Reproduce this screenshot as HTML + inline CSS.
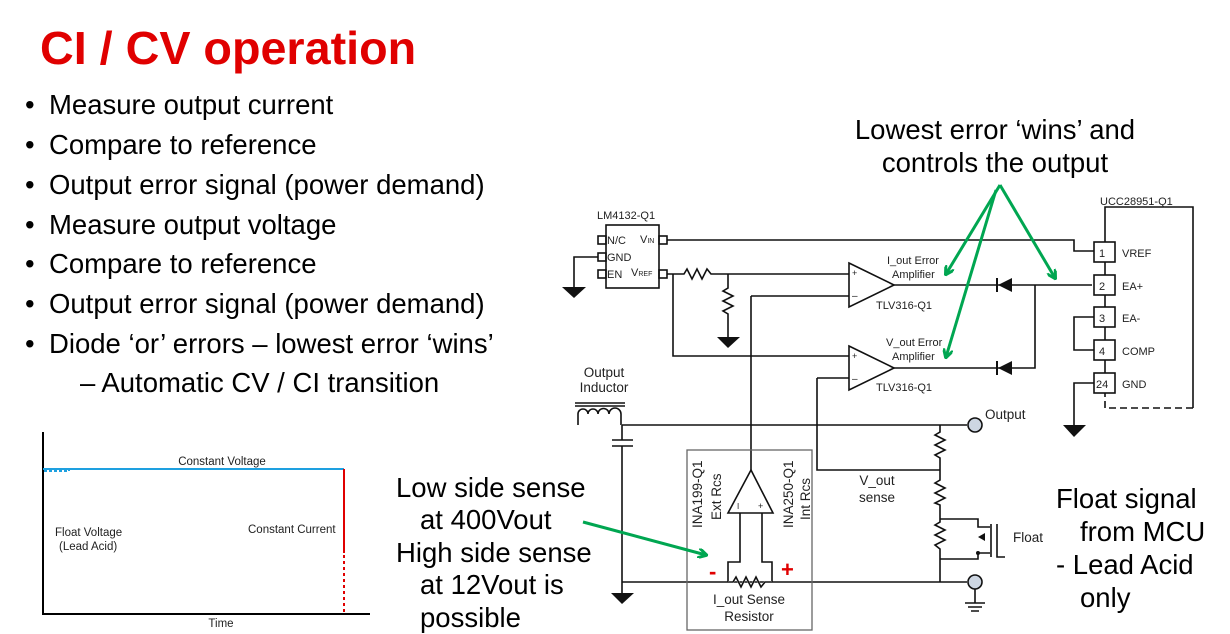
<!DOCTYPE html>
<html><head><meta charset="utf-8"><style>
html,body{margin:0;padding:0;background:#fff;}
svg{display:block;font-family:"Liberation Sans",Arial,sans-serif;}
</style></head><body>
<svg width="1230" height="634" viewBox="0 0 1230 634" xmlns="http://www.w3.org/2000/svg">
<defs>
<marker id="ah" markerWidth="10" markerHeight="10" refX="8" refY="5" orient="auto" markerUnits="userSpaceOnUse">
<path d="M0,0 L9,5 L0,10" fill="none" stroke="#00a651" stroke-width="3"/>
</marker>
</defs>
<text x="40" y="64" font-size="46.7" font-weight="bold" fill="#e00000">CI / CV operation</text>
<g font-size="27.5" fill="#000">
<text x="25" y="114">•</text><text x="49" y="114">Measure output current</text>
<text x="25" y="154">•</text><text x="49" y="154">Compare to reference</text>
<text x="25" y="194">•</text><text x="49" y="194">Output error signal (power demand)</text>
<text x="25" y="234">•</text><text x="49" y="234">Measure output voltage</text>
<text x="25" y="273">•</text><text x="49" y="273">Compare to reference</text>
<text x="25" y="313">•</text><text x="49" y="313">Output error signal (power demand)</text>
<text x="25" y="353">•</text><text x="49" y="353">Diode ‘or’ errors – lowest error ‘wins’</text>
<text x="80" y="392">– Automatic CV / CI transition</text>
</g>
<g stroke-width="2" fill="none">
<path d="M43,432 V614 H370" stroke="#000"/>
<path d="M43,469 H344" stroke="#1ea0e0"/>
<path d="M44,471 H69 V468" stroke="#1ea0e0" stroke-dasharray="3,2"/>
<path d="M344,469 V553" stroke="#e00000"/>
<path d="M344,555 V614" stroke="#e00000" stroke-dasharray="3,3"/>
</g>
<g font-size="11.5" fill="#222">
<text x="222" y="465" text-anchor="middle">Constant Voltage</text>
<text x="55" y="536">Float Voltage</text>
<text x="59" y="550">(Lead Acid)</text>
<text x="248" y="533">Constant Current</text>
<text x="221" y="627" text-anchor="middle">Time</text>
</g>
<g stroke="#111" stroke-width="1.6" fill="none">
<rect x="606" y="225" width="53" height="63" fill="#fff"/>
<rect x="598" y="236" width="8" height="8"/><rect x="598" y="253" width="8" height="8"/><rect x="598" y="270" width="8" height="8"/>
<rect x="659" y="236" width="8" height="8"/><rect x="659" y="270" width="8" height="8"/>
<path d="M598,257 H574 V287"/>
<path d="M667,240 H1074 V251 H1094"/>
<path d="M667,274 H684 l3,-5 l5,10 l5,-10 l5,10 l5,-10 l4,5 H849"/>
<path d="M728,274 V288 l-5,3 l10,5 l-10,5 l10,5 l-10,5 l5,3 V337"/>
<path d="M673,274 V356 H849"/>
<path d="M849,263 L894,285 L849,307 Z" fill="#fff"/>
<path d="M849,346 L894,368 L849,390 Z" fill="#fff"/>
<path d="M894,285 H1092"/>
<path d="M894,368 H1035 V285"/>
<path d="M751,296 H849"/>
<path d="M751,296 V470"/>
<path d="M817,378 H849"/>
<path d="M817,378 V470 H940"/>
<rect x="1094" y="242" width="21" height="20" fill="#fff"/>
<rect x="1094" y="275" width="21" height="20" fill="#fff"/>
<rect x="1094" y="307" width="21" height="20" fill="#fff"/>
<rect x="1094" y="340" width="21" height="20" fill="#fff"/>
<rect x="1094" y="373" width="21" height="20" fill="#fff"/>
<path d="M1105,242 V207 H1193 V408"/>
<path d="M1193,408 H1105 V393" stroke-dasharray="7,4"/>
<path d="M1105,262 V275 M1105,295 V307 M1105,327 V340 M1105,360 V373"/>
<path d="M1094,317 H1074 V350 H1094"/>
<path d="M1094,383 H1074 V425"/>
<path d="M575,403 H625 M575,406 H625"/>
<path d="M578,425 V414 a5,5 0 0 1 10,0 a5,5 0 0 1 10,0 a5,5 0 0 1 11,0 a5,5 0 0 1 12,0 V425"/>
<path d="M622,425 H967"/>
<path d="M612,440 H633 M612,446 H633 M622,425 V440 M622,446 V593"/>
<path d="M622,582 H967"/>
<rect x="687" y="450" width="125" height="180" stroke="#666" stroke-width="1.3"/>
<path d="M751,470 L728,513 H773 Z" fill="#fff"/>
<path d="M740,513 V562 H728 V582 M762,513 V562 H772 V582"/>
<path d="M728,582 H733 l3,-5 l5,10 l5,-10 l5,10 l5,-10 l5,10 l4,-5 H772" stroke-width="2" stroke="#fff"/>
<path d="M728,582 H733 l3,-5 l5,10 l5,-10 l5,10 l5,-10 l5,10 l4,-5 H772"/>
<path d="M940,425 V432 l-5,3 l10,5 l-10,5 l10,5 l-10,5 l5,3 V480 l-5,3 l10,5 l-10,5 l10,5 l-10,5 l5,2 V522 l-5,3 l10,5 l-10,5 l10,5 l-10,5 l5,4 V582"/>
<path d="M940,519 H978 V527 H990 M940,559 H978 V553 H990"/>
<path d="M991,524 V557 M997,524 V557 H1005"/>
<circle cx="975" cy="425" r="7" fill="#cdd6e2"/>
<circle cx="975" cy="582" r="7" fill="#cdd6e2"/>
<path d="M975,589 V603 M965,603 H985 M968,607 H982 M971,611 H979"/>
</g>
<g fill="#111">
<path d="M562,287 H586 L574,298 Z"/>
<path d="M717,337 H740 L728,348 Z"/>
<path d="M1063,425 H1086 L1074,437 Z"/>
<path d="M611,593 H634 L622,604 Z"/>
<path d="M1012,278 V292 L998,285 Z"/><rect x="996" y="278" width="2" height="14"/>
<path d="M1012,361 V375 L998,368 Z"/><rect x="996" y="361" width="2" height="14"/>
<path d="M978,537 L985,533 V541 Z"/>
<circle cx="978" cy="553" r="2"/>
</g>
<g font-size="11" fill="#222">
<text x="597" y="219">LM4132-Q1</text>
<text x="607" y="244">N/C</text><text x="607" y="261">GND</text><text x="607" y="278">EN</text>
<text x="640" y="243">V<tspan font-size="7">IN</tspan></text>
<text x="631" y="276">V<tspan font-size="7">REF</tspan></text>
<text x="852" y="276" font-size="9">+</text><text x="852" y="299" font-size="10">–</text>
<text x="852" y="359" font-size="9">+</text><text x="852" y="382" font-size="10">–</text>
<text x="887" y="264">I_out Error</text><text x="892" y="278">Amplifier</text>
<text x="876" y="309">TLV316-Q1</text>
<text x="886" y="346">V_out Error</text><text x="892" y="360">Amplifier</text>
<text x="876" y="391">TLV316-Q1</text>
<text x="1100" y="205">UCC28951-Q1</text>
<text x="1099" y="257">1</text><text x="1099" y="290">2</text><text x="1099" y="322">3</text><text x="1099" y="355">4</text><text x="1096" y="388">24</text>
<text x="1122" y="257">VREF</text><text x="1122" y="290">EA+</text><text x="1122" y="322">EA-</text><text x="1122" y="355">COMP</text><text x="1122" y="388">GND</text>
<text x="604" y="377" font-size="13.5" text-anchor="middle">Output</text>
<text x="604" y="392" font-size="13.5" text-anchor="middle">Inductor</text>
<text x="985" y="419" font-size="13.5">Output</text>
<text x="877" y="485" font-size="13.5" text-anchor="middle">V_out</text>
<text x="877" y="502" font-size="13.5" text-anchor="middle">sense</text>
<text x="1013" y="542" font-size="13.5">Float</text>
<text x="749" y="604" font-size="13.5" text-anchor="middle">I_out Sense</text>
<text x="749" y="621" font-size="13.5" text-anchor="middle">Resistor</text>
<text transform="translate(702,528) rotate(-90)" font-size="13.5">INA199-Q1</text>
<text transform="translate(721,520) rotate(-90)" font-size="13.5">Ext Rcs</text>
<text transform="translate(793,528) rotate(-90)" font-size="13.5">INA250-Q1</text>
<text transform="translate(810,520) rotate(-90)" font-size="13.5">Int Rcs</text>
<text x="737" y="509" font-size="8">I</text><text x="758" y="509" font-size="9">+</text>
</g>
<text x="709" y="579" font-size="22" font-weight="bold" fill="#e00000">-</text>
<text x="781" y="577" font-size="22" font-weight="bold" fill="#e00000">+</text>
<g stroke="#00a651" stroke-width="3" fill="none" marker-end="url(#ah)">
<path d="M1000,185 L946,274"/>
<path d="M1000,185 L1055,278"/>
<path d="M996,190 L946,357"/>
<path d="M583,522 L706,555"/>
</g>
<g font-size="27.5" fill="#000">
<text x="995" y="139" text-anchor="middle">Lowest error ‘wins’ and</text>
<text x="995" y="172" text-anchor="middle">controls the output</text>
<text x="396" y="497">Low side sense</text>
<text x="420" y="529">at 400Vout</text>
<text x="396" y="562">High side sense</text>
<text x="420" y="594">at 12Vout is</text>
<text x="420" y="627">possible</text>
<text x="1056" y="508">Float signal</text>
<text x="1080" y="541">from MCU</text>
<text x="1056" y="574">- Lead Acid</text>
<text x="1080" y="607">only</text>
</g>
</svg>
</body></html>
